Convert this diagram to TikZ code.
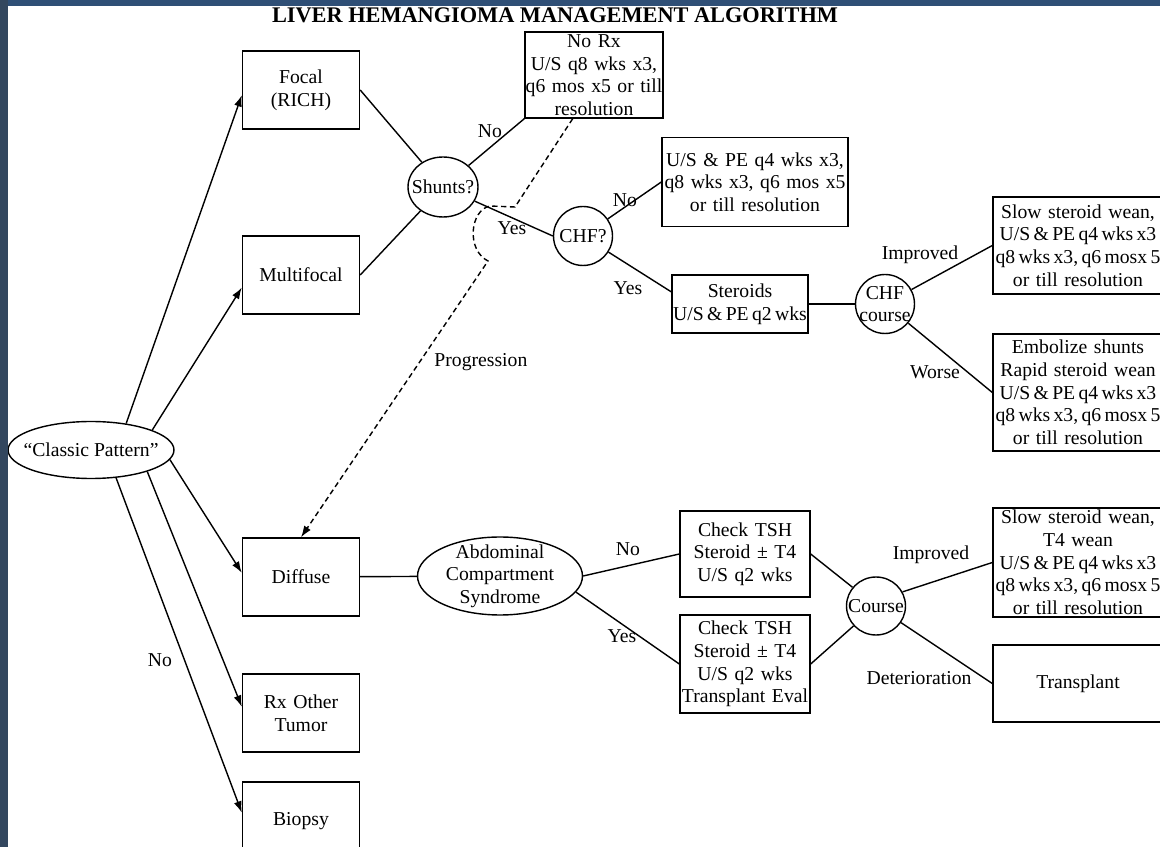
\documentclass[tikz,border=0pt]{standalone}
\usepackage{fontspec}
\setmainfont{Liberation Serif}
\usetikzlibrary{shapes.geometric,arrows.meta}
\definecolor{frametop}{HTML}{2F4F76}
\definecolor{frameside}{HTML}{33475F}
\newcommand{\chartfont}{\fontsize{11.2}{12.9}\selectfont}
\newcommand{\tightline}[1]{\mbox{\spaceskip=0.17em\relax #1}}

\begin{document}
\begin{tikzpicture}[x=0.02cm, y=-0.02cm, line width=0.8pt,
    >={Latex[length=6.5pt, width=4.5pt]},
    box/.style 2 args={draw, rectangle, inner sep=0pt, text width=#1, minimum height=#2, align=center, font=\chartfont},
    oval/.style={draw, ellipse, inner sep=0pt, label={[tag, align=center]center:#1}},
    tag/.style={font=\chartfont, inner sep=1pt}]
  \useasboundingbox (0,0) rectangle (1160,847);
  \clip (0,0) rectangle (1160,847);
  \fill[white] (0,0) rectangle (1160,847);

  \node (title) at (555,23) [anchor=base, font=\fontsize{12.7}{15}\selectfont\bfseries] {LIVER HEMANGIOMA MANAGEMENT ALGORITHM};

  % left column
  \node (cp) at (91,450) [oval={``Classic Pattern''}, minimum width=3.32cm, minimum height=1.14cm] {};
  \node (focal) at (301,90) [box={2.34cm}{1.56cm}] {Focal\\(RICH)};
  \node (multi) at (301,275) [box={2.34cm}{1.56cm}] {Multifocal};
  \node (diffuse) at (301,577) [box={2.34cm}{1.56cm}] {Diffuse};
  \node (other) at (301,713) [box={2.34cm}{1.56cm}] {Rx Other\\Tumor};
  \node (biopsy) at (301,821) [box={2.34cm}{1.56cm}] {Biopsy};

  % shunt branch
  \node (shunts) at (443,187) [oval={Shunts?}, minimum width=1.4cm, minimum height=1.2cm] {};
  \node (norx) at (594,75) [box={2.76cm}{1.72cm}] {No Rx\\U/S q8 wks x3,\\\mbox{q6 mos x5 or till}\\resolution};
  \node (chf) at (583,236) [oval={CHF?}, minimum size=1.18cm] {};
  \node (uspe) at (755,182) [box={3.72cm}{1.78cm}] {\mbox{U/S \& PE q4 wks x3,}\\q8 wks x3, q6 mos x5\\or till resolution};
  \node (steroids) at (740,304) [box={2.72cm}{1.16cm}] {Steroids\\\tightline{U/S \& PE q2 wks}};
  \node (chfcourse) at (885,304) [oval={CHF\\course}, minimum size=1.18cm] {};
  \node (slowA) at (1078,245.5) [box={3.4cm}{1.94cm}] {Slow steroid wean,\\\tightline{U/S \& PE q4 wks x3}\\\tightline{q8 wks x3, q6 mosx 5}\\or till resolution};
  \node (embolize) at (1078,392.5) [box={3.4cm}{2.34cm}] {Embolize shunts\\Rapid steroid wean\\\tightline{U/S \& PE q4 wks x3}\\\tightline{q8 wks x3, q6 mosx 5}\\or till resolution};

  % diffuse branch
  \node (acs) at (500,576) [oval={Abdominal\\Compartment\\Syndrome}, minimum width=3.3cm, minimum height=1.56cm] {};
  \node (checkA) at (745,554) [box={2.6cm}{1.72cm}] {Check TSH\\Steroid ± T4\\U/S q2 wks};
  \node (checkB) at (745,664) [box={2.6cm}{1.96cm}] {Check TSH\\Steroid ± T4\\U/S q2 wks\\\mbox{Transplant Eval}};
  \node (course) at (876,606) [oval={Course}, minimum width=1.18cm, minimum height=1.16cm] {};
  \node (slowB) at (1078,562.5) [box={3.4cm}{2.18cm}] {Slow steroid wean,\\T4 wean\\\tightline{U/S \& PE q4 wks x3}\\\tightline{q8 wks x3, q6 mosx 5}\\or till resolution};
  \node (transplant) at (1078,683.5) [box={3.4cm}{1.54cm}] {Transplant};

  % arrows out of the classic pattern
  \draw[->] (cp.37) -- (focal.185);
  \draw[->] (cp.18) -- (multi.192);
  \draw[->] (cp.-7) -- (diffuse.176);
  \draw[->] (cp.-21) -- (other.174);
  \draw[->] (cp.-48) -- (biopsy.172);

  \draw (focal.east) -- (shunts);
  \draw (multi.east) -- (shunts);
  \draw (shunts) -- (norx.south west);
  \draw (shunts) -- (chf.west);
  \draw (chf) -- (uspe.west);
  \draw (chf) -- (steroids.170);
  \draw (steroids) -- (chfcourse);
  \draw (chfcourse) -- (slowA.west);
  \draw (chfcourse) -- (embolize.west);

  \draw (diffuse) -- (acs);
  \draw (acs.east) -- (checkA.west);
  \draw (acs.-12) -- (checkB.west);
  \draw (checkA.east) -- (course);
  \draw (checkB.east) -- (course);
  \draw (course.28) -- (slowB.west);
  \draw (course) -- (transplant.west);

  % progression, hopping over the yes line
  \coordinate (bendA) at (515,207);
  \coordinate (bendB) at (490,206);
  \coordinate (bendC) at (488,261);
  \draw[->, densely dashed] (norx.244) -- (bendA) -- (bendB) .. controls (470,210) and (466,250) .. (bendC) -- (diffuse.north);
  \node (progress) at (432,362) [tag, anchor=west] {Progression};

  \node (noshunt) at (490,131) [tag] {No};
  \node (yesshunt) at (512,228) [tag] {Yes};
  \node (nochf) at (625,200) [tag] {No};
  \node (yeschf) at (628,288) [tag] {Yes};
  \node (better) at (920,255) [tag] {Improved};
  \node (worse) at (935,372) [tag] {Worse};
  \node (noacs) at (628,549) [tag] {No};
  \node (yesacs) at (622,636) [tag] {Yes};
  \node (betterB) at (931,555) [tag] {Improved};
  \node (deterior) at (919,678) [tag] {Deterioration};
  \node (noleft) at (160,660) [tag] {No};

  \fill[frametop] (0,0) rectangle (1160,6);
  \fill[frameside] (0,0) rectangle (8,847);
\end{tikzpicture}
\end{document}
